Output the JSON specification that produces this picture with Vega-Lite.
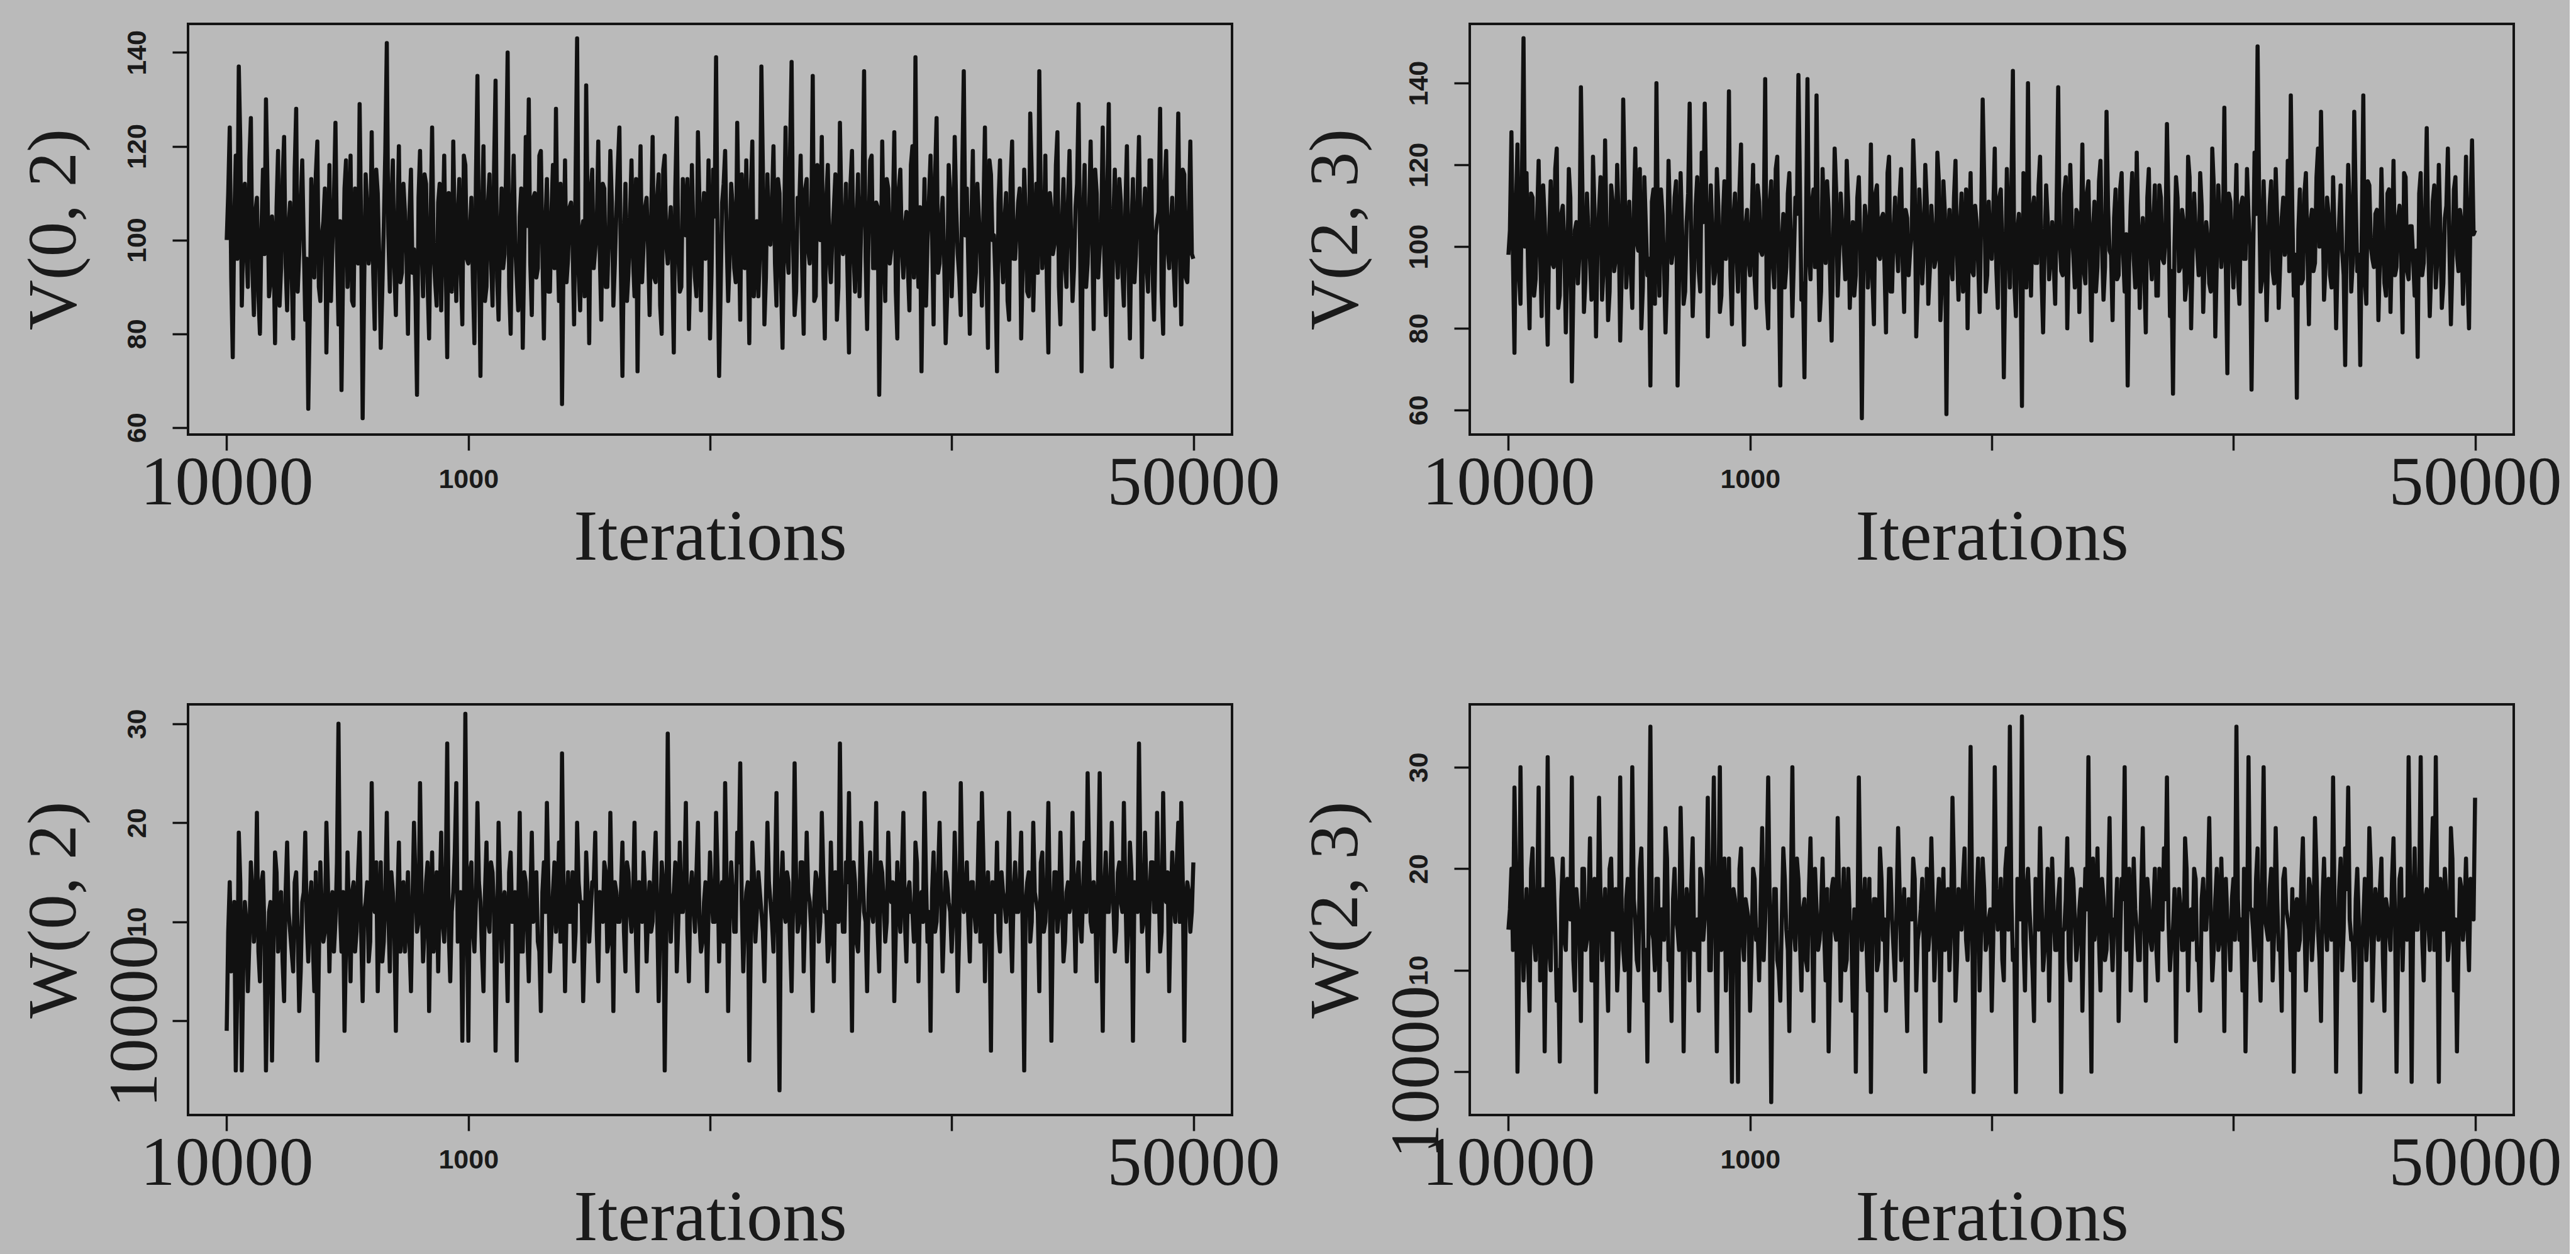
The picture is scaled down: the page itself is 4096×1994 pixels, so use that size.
{
"$schema": "https://vega.github.io/schema/vega-lite/v6.json",
"background": "#bababa",
"padding": {"left": 28, "top": 36, "right": 10, "bottom": 10},
"data": {"name": "t"},
"datasets": {"t": [
{"i":0,"a":100,"b":98,"c":-1,"d":14},{"i":12.5,"a":124,"b":128,"c":14,"d":20},{"i":25,"a":75,"b":74,"c":6,"d":28},{"i":37.5,"a":118,"b":125,"c":-5,"d":0},{"i":50,"a":137,"b":86,"c":19,"d":30},{"i":62.5,"a":86,"b":151,"c":-5,"d":9},{"i":75,"a":112,"b":118,"c":12,"d":18},{"i":87.5,"a":90,"b":80,"c":3,"d":6},{"i":100,"a":126,"b":112,"c":16,"d":22},{"i":112.5,"a":84,"b":92,"c":8,"d":11},{"i":125,"a":109,"b":121,"c":21,"d":28},{"i":137.5,"a":80,"b":83,"c":4,"d":15},{"i":150,"a":115,"b":107,"c":15,"d":2},{"i":162.5,"a":130,"b":76,"c":-5,"d":31},{"i":175,"a":88,"b":116,"c":11,"d":10},{"i":187.5,"a":105,"b":95,"c":-4,"d":19},{"i":200,"a":78,"b":124,"c":17,"d":7},{"i":212.5,"a":119,"b":88,"c":7,"d":1},{"i":225,"a":94,"b":110,"c":13,"d":21},{"i":237.5,"a":122,"b":79,"c":2,"d":12},
{"i":250,"a":85,"b":119,"c":18,"d":17},{"i":262.5,"a":108,"b":67,"c":9,"d":29},{"i":275,"a":79,"b":104,"c":5,"d":8},{"i":287.5,"a":128,"b":91,"c":15,"d":16},{"i":300,"a":97,"b":139,"c":1,"d":5},{"i":312.5,"a":117,"b":84,"c":12,"d":20},{"i":325,"a":83,"b":113,"c":19,"d":13},{"i":337.5,"a":64,"b":97,"c":6,"d":23},{"i":350,"a":113,"b":122,"c":14,"d":9},{"i":362.5,"a":92,"b":78,"c":3,"d":-2},{"i":375,"a":121,"b":109,"c":-4,"d":27},{"i":387.5,"a":87,"b":87,"c":16,"d":11},{"i":400,"a":104,"b":126,"c":8,"d":18},{"i":412.5,"a":76,"b":82,"c":20,"d":6},{"i":425,"a":116,"b":115,"c":5,"d":21},{"i":437.5,"a":99,"b":94,"c":13,"d":14},{"i":450,"a":125,"b":120,"c":10,"d":8},{"i":462.5,"a":82,"b":77,"c":30,"d":29},{"i":475,"a":68,"b":136,"c":7,"d":12},{"i":487.5,"a":111,"b":90,"c":-1,"d":17},
{"i":500,"a":90,"b":111,"c":17,"d":4},{"i":512.5,"a":118,"b":85,"c":4,"d":30},{"i":525,"a":86,"b":124,"c":14,"d":15},{"i":537.5,"a":107,"b":99,"c":9,"d":10},{"i":550,"a":129,"b":80,"c":19,"d":22},{"i":562.5,"a":62,"b":117,"c":2,"d":7},{"i":575,"a":114,"b":93,"c":12,"d":1},{"i":587.5,"a":95,"b":66,"c":6,"d":34},{"i":600,"a":123,"b":114,"c":24,"d":13},{"i":612.5,"a":81,"b":140,"c":11,"d":19},{"i":625,"a":110,"b":88,"c":3,"d":8},{"i":637.5,"a":77,"b":108,"c":16,"d":16},{"i":650,"a":103,"b":79,"c":8,"d":24},{"i":662.5,"a":142,"b":121,"c":21,"d":11},{"i":675,"a":89,"b":96,"c":5,"d":5},{"i":687.5,"a":117,"b":112,"c":13,"d":20},{"i":700,"a":84,"b":66,"c":-1,"d":14},{"i":712.5,"a":120,"b":118,"c":18,"d":26},{"i":725,"a":93,"b":86,"c":10,"d":2},{"i":737.5,"a":106,"b":106,"c":7,"d":18},
{"i":750,"a":80,"b":135,"c":15,"d":9},{"i":762.5,"a":115,"b":83,"c":3,"d":23},{"i":775,"a":98,"b":110,"c":20,"d":12},{"i":787.5,"a":67,"b":94,"c":9,"d":6},{"i":800,"a":119,"b":123,"c":24,"d":19},{"i":812.5,"a":88,"b":135,"c":6,"d":15},{"i":825,"a":112,"b":78,"c":14,"d":27},{"i":837.5,"a":79,"b":115,"c":1,"d":10},{"i":850,"a":124,"b":91,"c":17,"d":29},{"i":862.5,"a":91,"b":119,"c":11,"d":2},{"i":875,"a":108,"b":84,"c":5,"d":30},{"i":887.5,"a":85,"b":107,"c":19,"d":13},{"i":900,"a":118,"b":97,"c":8,"d":8},{"i":912.5,"a":75,"b":138,"c":28,"d":21},{"i":925,"a":101,"b":81,"c":4,"d":-1},{"i":937.5,"a":121,"b":113,"c":13,"d":17},{"i":950,"a":87,"b":89,"c":24,"d":-1},{"i":962.5,"a":113,"b":125,"c":10,"d":22},{"i":975,"a":82,"b":76,"c":-2,"d":11},{"i":987.5,"a":116,"b":109,"c":31,"d":16},
{"i":1000,"a":95,"b":93,"c":-2,"d":6},{"i":1012.5,"a":109,"b":120,"c":16,"d":20},{"i":1025,"a":78,"b":85,"c":7,"d":13},{"i":1037.5,"a":135,"b":111,"c":22,"d":9},{"i":1050,"a":71,"b":98,"c":12,"d":24},{"i":1062.5,"a":120,"b":141,"c":3,"d":15},{"i":1075,"a":90,"b":80,"c":18,"d":29},{"i":1087.5,"a":114,"b":116,"c":9,"d":-3},{"i":1100,"a":86,"b":90,"c":15,"d":18},{"i":1112.5,"a":134,"b":122,"c":-3,"d":11},{"i":1125,"a":83,"b":66,"c":20,"d":7},{"i":1137.5,"a":111,"b":108,"c":6,"d":22},{"i":1150,"a":97,"b":95,"c":13,"d":14},{"i":1162.5,"a":140,"b":118,"c":2,"d":4},{"i":1175,"a":80,"b":83,"c":17,"d":30},{"i":1187.5,"a":118,"b":112,"c":10,"d":12},{"i":1200,"a":92,"b":142,"c":-4,"d":19},{"i":1212.5,"a":105,"b":87,"c":21,"d":8},{"i":1225,"a":77,"b":68,"c":7,"d":17},{"i":1237.5,"a":122,"b":141,"c":14,"d":10},
{"i":1250,"a":130,"b":92,"c":4,"d":23},{"i":1262.5,"a":84,"b":114,"c":19,"d":5},{"i":1275,"a":110,"b":137,"c":11,"d":16},{"i":1287.5,"a":94,"b":82,"c":8,"d":13},{"i":1300,"a":119,"b":119,"c":1,"d":21},{"i":1312.5,"a":79,"b":96,"c":16,"d":9},{"i":1325,"a":113,"b":109,"c":22,"d":2},{"i":1337.5,"a":89,"b":77,"c":5,"d":18},{"i":1350,"a":116,"b":124,"c":13,"d":14},{"i":1362.5,"a":128,"b":88,"c":9,"d":25},{"i":1375,"a":87,"b":113,"c":18,"d":7},{"i":1387.5,"a":65,"b":100,"c":27,"d":20},{"i":1400,"a":117,"b":121,"c":3,"d":11},{"i":1412.5,"a":96,"b":85,"c":15,"d":15},{"i":1425,"a":108,"b":106,"c":10,"d":6},{"i":1437.5,"a":82,"b":93,"c":6,"d":0},{"i":1450,"a":143,"b":117,"c":20,"d":29},{"i":1462.5,"a":85,"b":58,"c":12,"d":12},{"i":1475,"a":104,"b":110,"c":2,"d":19},{"i":1487.5,"a":133,"b":90,"c":17,"d":8},
{"i":1500,"a":78,"b":125,"c":8,"d":-2},{"i":1512.5,"a":115,"b":81,"c":14,"d":17},{"i":1525,"a":98,"b":115,"c":19,"d":10},{"i":1537.5,"a":121,"b":97,"c":4,"d":22},{"i":1550,"a":83,"b":108,"c":11,"d":13},{"i":1562.5,"a":111,"b":79,"c":16,"d":6},{"i":1575,"a":90,"b":122,"c":7,"d":20},{"i":1587.5,"a":119,"b":89,"c":21,"d":15},{"i":1600,"a":86,"b":112,"c":1,"d":9},{"i":1612.5,"a":106,"b":94,"c":13,"d":24},{"i":1625,"a":124,"b":119,"c":10,"d":11},{"i":1637.5,"a":71,"b":84,"c":18,"d":18},{"i":1650,"a":112,"b":107,"c":5,"d":4},{"i":1662.5,"a":93,"b":99,"c":15,"d":16},{"i":1675,"a":117,"b":126,"c":9,"d":21},{"i":1687.5,"a":88,"b":78,"c":20,"d":8},{"i":1700,"a":72,"b":114,"c":3,"d":14},{"i":1712.5,"a":120,"b":91,"c":12,"d":19},{"i":1725,"a":99,"b":120,"c":17,"d":0},{"i":1737.5,"a":109,"b":86,"c":6,"d":12},
{"i":1750,"a":84,"b":110,"c":14,"d":23},{"i":1762.5,"a":122,"b":95,"c":10,"d":9},{"i":1775,"a":91,"b":123,"c":19,"d":16},{"i":1787.5,"a":114,"b":82,"c":2,"d":5},{"i":1800,"a":80,"b":116,"c":16,"d":20},{"i":1812.5,"a":118,"b":59,"c":-5,"d":13},{"i":1825,"a":95,"b":109,"c":29,"d":10},{"i":1837.5,"a":107,"b":92,"c":8,"d":27},{"i":1850,"a":76,"b":121,"c":13,"d":7},{"i":1862.5,"a":126,"b":87,"c":5,"d":18},{"i":1875,"a":89,"b":113,"c":18,"d":14},{"i":1887.5,"a":113,"b":98,"c":11,"d":22},{"i":1900,"a":101,"b":80,"c":22,"d":11},{"i":1912.5,"a":81,"b":118,"c":4,"d":32},{"i":1925,"a":116,"b":93,"c":15,"d":-2},{"i":1937.5,"a":92,"b":106,"c":9,"d":17},{"i":1950,"a":123,"b":84,"c":20,"d":8},{"i":1962.5,"a":85,"b":136,"c":7,"d":21},{"i":1975,"a":110,"b":89,"c":12,"d":12},{"i":1987.5,"a":97,"b":111,"c":3,"d":15},
{"i":2000,"a":79,"b":97,"c":17,"d":6},{"i":2012.5,"a":115,"b":124,"c":10,"d":30},{"i":2025,"a":139,"b":85,"c":21,"d":14},{"i":2037.5,"a":71,"b":114,"c":6,"d":19},{"i":2050,"a":108,"b":68,"c":14,"d":9},{"i":2062.5,"a":119,"b":119,"c":24,"d":22},{"i":2075,"a":87,"b":90,"c":1,"d":34},{"i":2087.5,"a":112,"b":143,"c":16,"d":11},{"i":2100,"a":94,"b":83,"c":9,"d":-2},{"i":2112.5,"a":125,"b":108,"c":19,"d":16},{"i":2125,"a":83,"b":61,"c":26,"d":35},{"i":2137.5,"a":105,"b":117,"c":5,"d":8},{"i":2150,"a":117,"b":140,"c":13,"d":20},{"i":2162.5,"a":78,"b":88,"c":-4,"d":13},{"i":2175,"a":121,"b":112,"c":18,"d":5},{"i":2187.5,"a":96,"b":96,"c":8,"d":18},{"i":2200,"a":88,"b":122,"c":15,"d":24},{"i":2212.5,"a":137,"b":79,"c":11,"d":10},{"i":2225,"a":82,"b":115,"c":4,"d":15},{"i":2237.5,"a":114,"b":92,"c":20,"d":7},
{"i":2250,"a":99,"b":106,"c":12,"d":21},{"i":2262.5,"a":120,"b":86,"c":7,"d":12},{"i":2275,"a":86,"b":139,"c":23,"d":17},{"i":2287.5,"a":110,"b":94,"c":-7,"d":-2},{"i":2300,"a":77,"b":113,"c":17,"d":14},{"i":2312.5,"a":124,"b":80,"c":10,"d":23},{"i":2325,"a":93,"b":120,"c":14,"d":9},{"i":2337.5,"a":138,"b":98,"c":3,"d":19},{"i":2350,"a":84,"b":109,"c":26,"d":11},{"i":2362.5,"a":109,"b":84,"c":9,"d":16},{"i":2375,"a":118,"b":125,"c":16,"d":6},{"i":2387.5,"a":80,"b":91,"c":5,"d":20},{"i":2400,"a":113,"b":116,"c":19,"d":31},{"i":2412.5,"a":95,"b":77,"c":12,"d":0},{"i":2425,"a":135,"b":111,"c":1,"d":13},{"i":2437.5,"a":88,"b":95,"c":15,"d":22},{"i":2450,"a":104,"b":121,"c":8,"d":8},{"i":2462.5,"a":122,"b":87,"c":21,"d":17},{"i":2475,"a":79,"b":133,"c":11,"d":12},{"i":2487.5,"a":116,"b":99,"c":6,"d":25},
{"i":2500,"a":91,"b":82,"c":18,"d":10},{"i":2512.5,"a":107,"b":114,"c":4,"d":15},{"i":2525,"a":83,"b":93,"c":13,"d":5},{"i":2537.5,"a":125,"b":118,"c":28,"d":19},{"i":2550,"a":97,"b":89,"c":9,"d":30},{"i":2562.5,"a":112,"b":66,"c":16,"d":13},{"i":2575,"a":76,"b":110,"c":23,"d":8},{"i":2587.5,"a":119,"b":97,"c":-1,"d":21},{"i":2600,"a":89,"b":123,"c":14,"d":14},{"i":2612.5,"a":114,"b":85,"c":7,"d":11},{"i":2625,"a":102,"b":107,"c":20,"d":24},{"i":2637.5,"a":136,"b":79,"c":11,"d":7},{"i":2650,"a":81,"b":119,"c":3,"d":17},{"i":2662.5,"a":117,"b":92,"c":17,"d":12},{"i":2675,"a":94,"b":115,"c":10,"d":20},{"i":2687.5,"a":108,"b":88,"c":22,"d":9},{"i":2700,"a":67,"b":112,"c":5,"d":16},{"i":2712.5,"a":121,"b":96,"c":15,"d":22},{"i":2725,"a":87,"b":130,"c":8,"d":29},{"i":2737.5,"a":111,"b":83,"c":19,"d":10},
{"i":2750,"a":98,"b":64,"c":12,"d":14},{"i":2762.5,"a":123,"b":117,"c":2,"d":3},{"i":2775,"a":79,"b":94,"c":16,"d":18},{"i":2787.5,"a":115,"b":109,"c":9,"d":12},{"i":2800,"a":92,"b":87,"c":21,"d":23},{"i":2812.5,"a":106,"b":122,"c":6,"d":8},{"i":2825,"a":85,"b":80,"c":14,"d":16},{"i":2837.5,"a":120,"b":113,"c":11,"d":20},{"i":2850,"a":139,"b":99,"c":18,"d":11},{"i":2862.5,"a":90,"b":118,"c":4,"d":6},{"i":2875,"a":72,"b":84,"c":13,"d":19},{"i":2887.5,"a":113,"b":106,"c":23,"d":14},{"i":2900,"a":100,"b":91,"c":8,"d":25},{"i":2912.5,"a":118,"b":124,"c":-1,"d":9},{"i":2925,"a":82,"b":78,"c":17,"d":17},{"i":2937.5,"a":126,"b":115,"c":10,"d":12},{"i":2950,"a":95,"b":95,"c":20,"d":21},{"i":2962.5,"a":109,"b":134,"c":5,"d":4},{"i":2975,"a":78,"b":69,"c":15,"d":15},{"i":2987.5,"a":116,"b":111,"c":12,"d":10},
{"i":3000,"a":88,"b":90,"c":7,"d":19},{"i":3012.5,"a":122,"b":120,"c":19,"d":34},{"i":3025,"a":97,"b":86,"c":3,"d":13},{"i":3037.5,"a":84,"b":112,"c":24,"d":8},{"i":3050,"a":136,"b":97,"c":11,"d":2},{"i":3062.5,"a":111,"b":108,"c":16,"d":31},{"i":3075,"a":80,"b":65,"c":6,"d":16},{"i":3087.5,"a":119,"b":123,"c":14,"d":11},{"i":3100,"a":93,"b":149,"c":9,"d":22},{"i":3112.5,"a":105,"b":89,"c":20,"d":7},{"i":3125,"a":86,"b":116,"c":23,"d":30},{"i":3137.5,"a":124,"b":82,"c":4,"d":14},{"i":3150,"a":77,"b":110,"c":15,"d":18},{"i":3162.5,"a":114,"b":94,"c":-3,"d":9},{"i":3175,"a":101,"b":119,"c":12,"d":24},{"i":3187.5,"a":72,"b":85,"c":18,"d":12},{"i":3200,"a":117,"b":107,"c":7,"d":6},{"i":3212.5,"a":91,"b":98,"c":13,"d":20},{"i":3225,"a":110,"b":121,"c":10,"d":15},{"i":3237.5,"a":83,"b":137,"c":21,"d":10},
{"i":3250,"a":121,"b":88,"c":5,"d":0},{"i":3262.5,"a":96,"b":63,"c":16,"d":17},{"i":3275,"a":108,"b":114,"c":11,"d":13},{"i":3287.5,"a":79,"b":92,"c":19,"d":23},{"i":3300,"a":115,"b":118,"c":-5,"d":8},{"i":3312.5,"a":89,"b":81,"c":14,"d":19},{"i":3325,"a":127,"b":109,"c":8,"d":11},{"i":3337.5,"a":85,"b":96,"c":20,"d":25},{"i":3350,"a":112,"b":124,"c":12,"d":14},{"i":3362.5,"a":136,"b":133,"c":3,"d":5},{"i":3375,"a":94,"b":87,"c":17,"d":21},{"i":3387.5,"a":118,"b":112,"c":10,"d":12},{"i":3400,"a":76,"b":93,"c":22,"d":16},{"i":3412.5,"a":106,"b":117,"c":-2,"d":29},{"i":3425,"a":99,"b":80,"c":15,"d":0},{"i":3437.5,"a":123,"b":106,"c":9,"d":18},{"i":3450,"a":82,"b":99,"c":19,"d":10},{"i":3462.5,"a":113,"b":71,"c":6,"d":22},{"i":3475,"a":90,"b":120,"c":13,"d":28},{"i":3487.5,"a":119,"b":89,"c":11,"d":13},
{"i":3500,"a":87,"b":133,"c":21,"d":9},{"i":3512.5,"a":107,"b":94,"c":5,"d":20},{"i":3525,"a":129,"b":71,"c":16,"d":-2},{"i":3537.5,"a":72,"b":137,"c":8,"d":15},{"i":3550,"a":116,"b":86,"c":18,"d":11},{"i":3562.5,"a":95,"b":115,"c":25,"d":24},{"i":3575,"a":121,"b":97,"c":10,"d":7},{"i":3587.5,"a":81,"b":108,"c":14,"d":18},{"i":3600,"a":110,"b":82,"c":4,"d":13},{"i":3612.5,"a":98,"b":119,"c":25,"d":21},{"i":3625,"a":124,"b":91,"c":-1,"d":6},{"i":3637.5,"a":84,"b":113,"c":17,"d":16},{"i":3650,"a":129,"b":84,"c":11,"d":12},{"i":3662.5,"a":73,"b":121,"c":20,"d":23},{"i":3675,"a":115,"b":95,"c":7,"d":0},{"i":3687.5,"a":92,"b":110,"c":15,"d":19},{"i":3700,"a":108,"b":79,"c":12,"d":10},{"i":3712.5,"a":86,"b":117,"c":22,"d":17},{"i":3725,"a":120,"b":92,"c":6,"d":31},{"i":3737.5,"a":79,"b":105,"c":18,"d":-1},
{"i":3750,"a":113,"b":88,"c":-2,"d":22},{"i":3762.5,"a":97,"b":73,"c":13,"d":14},{"i":3775,"a":122,"b":118,"c":28,"d":31},{"i":3787.5,"a":75,"b":96,"c":9,"d":9},{"i":3800,"a":111,"b":129,"c":19,"d":18},{"i":3812.5,"a":89,"b":83,"c":5,"d":12},{"i":3825,"a":117,"b":111,"c":16,"d":25},{"i":3837.5,"a":83,"b":90,"c":11,"d":31},{"i":3850,"a":104,"b":120,"c":21,"d":-1},{"i":3862.5,"a":128,"b":85,"c":7,"d":16},{"i":3875,"a":80,"b":107,"c":23,"d":20},{"i":3887.5,"a":119,"b":124,"c":12,"d":11},{"i":3900,"a":94,"b":81,"c":3,"d":24},{"i":3912.5,"a":109,"b":114,"c":17,"d":8},{"i":3925,"a":86,"b":98,"c":10,"d":2},{"i":3937.5,"a":127,"b":109,"c":20,"d":19},{"i":3950,"a":82,"b":86,"c":22,"d":13},{"i":3962.5,"a":114,"b":122,"c":-2,"d":21},{"i":3975,"a":91,"b":80,"c":14,"d":10},{"i":3987.5,"a":121,"b":126,"c":9,"d":17},{"i":4000,"a":96,"b":104,"c":16,"d":27},
{"i":6.25,"a":110,"b":104,"c":9,"d":16},{"i":18.75,"a":92,"b":97,"c":5,"d":12},{"i":31.25,"a":104,"b":110,"c":12,"d":19},{"i":43.75,"a":96,"b":93,"c":3,"d":10},{"i":56.25,"a":121,"b":118,"c":14,"d":17},{"i":68.75,"a":101,"b":100,"c":6,"d":14},{"i":81.25,"a":98,"b":95,"c":10,"d":11},{"i":93.75,"a":117,"b":113,"c":8,"d":20},{"i":106.25,"a":94,"b":88,"c":13,"d":13},{"i":118.75,"a":106,"b":107,"c":11,"d":16},{"i":131.25,"a":88,"b":99,"c":7,"d":9},{"i":143.75,"a":102,"b":115,"c":14,"d":18},{"i":156.25,"a":97,"b":91,"c":9,"d":15},{"i":168.75,"a":112,"b":103,"c":4,"d":12},{"i":181.25,"a":91,"b":96,"c":12,"d":21},{"i":193.75,"a":99,"b":119,"c":8,"d":14},{"i":206.25,"a":107,"b":85,"c":15,"d":10},{"i":218.75,"a":86,"b":108,"c":10,"d":17},{"i":231.25,"a":113,"b":101,"c":6,"d":13},{"i":243.75,"a":95,"b":94,"c":13,"d":19},
{"i":256.25,"a":103,"b":112,"c":11,"d":15},{"i":268.75,"a":93,"b":90,"c":7,"d":11},{"i":281.25,"a":115,"b":106,"c":14,"d":18},{"i":293.75,"a":89,"b":98,"c":9,"d":14},{"i":306.25,"a":108,"b":114,"c":5,"d":20},{"i":318.75,"a":100,"b":92,"c":13,"d":12},{"i":331.25,"a":96,"b":103,"c":10,"d":16},{"i":343.75,"a":84,"b":87,"c":12,"d":9},{"i":356.25,"a":105,"b":109,"c":8,"d":19},{"i":368.75,"a":114,"b":100,"c":15,"d":13},{"i":381.25,"a":90,"b":117,"c":6,"d":17},{"i":393.75,"a":101,"b":95,"c":11,"d":15},{"i":406.25,"a":111,"b":102,"c":9,"d":11},{"i":418.75,"a":94,"b":89,"c":14,"d":20},{"i":431.25,"a":87,"b":111,"c":12,"d":14},{"i":443.75,"a":109,"b":97,"c":7,"d":18},{"i":456.25,"a":98,"b":106,"c":16,"d":12},{"i":468.75,"a":104,"b":93,"c":11,"d":16},{"i":481.25,"a":92,"b":115,"c":13,"d":10},{"i":493.75,"a":117,"b":99,"c":8,"d":19},
{"i":506.25,"a":99,"b":94,"c":10,"d":13},{"i":518.75,"a":87,"b":108,"c":13,"d":17},{"i":531.25,"a":111,"b":101,"c":7,"d":11},{"i":543.75,"a":95,"b":119,"c":15,"d":20},{"i":556.25,"a":103,"b":90,"c":9,"d":15},{"i":568.75,"a":90,"b":105,"c":11,"d":12},{"i":581.25,"a":107,"b":97,"c":14,"d":18},{"i":593.75,"a":98,"b":111,"c":8,"d":14},{"i":606.25,"a":93,"b":86,"c":12,"d":10},{"i":618.75,"a":115,"b":103,"c":16,"d":19},{"i":631.25,"a":96,"b":114,"c":10,"d":16},{"i":643.75,"a":89,"b":96,"c":6,"d":13},{"i":656.25,"a":119,"b":92,"c":13,"d":21},{"i":668.75,"a":101,"b":107,"c":11,"d":11},{"i":681.25,"a":108,"b":99,"c":15,"d":17},{"i":693.75,"a":94,"b":116,"c":9,"d":15},{"i":706.25,"a":103,"b":93,"c":12,"d":12},{"i":718.75,"a":91,"b":104,"c":7,"d":19},{"i":731.25,"a":112,"b":89,"c":14,"d":14},{"i":743.75,"a":97,"b":113,"c":10,"d":16},
{"i":756.25,"a":106,"b":100,"c":8,"d":18},{"i":768.75,"a":93,"b":95,"c":12,"d":12},{"i":781.25,"a":88,"b":117,"c":14,"d":15},{"i":793.75,"a":109,"b":89,"c":10,"d":20},{"i":806.25,"a":99,"b":106,"c":13,"d":13},{"i":818.75,"a":114,"b":112,"c":9,"d":17},{"i":831.25,"a":91,"b":98,"c":16,"d":10},{"i":843.75,"a":104,"b":103,"c":11,"d":19},{"i":856.25,"a":97,"b":94,"c":7,"d":14},{"i":868.75,"a":86,"b":110,"c":15,"d":16},{"i":881.25,"a":112,"b":88,"c":12,"d":12},{"i":893.75,"a":102,"b":116,"c":10,"d":21},{"i":906.25,"a":95,"b":101,"c":14,"d":15},{"i":918.75,"a":110,"b":93,"c":9,"d":11},{"i":931.25,"a":89,"b":107,"c":11,"d":18},{"i":943.75,"a":100,"b":99,"c":17,"d":14},{"i":956.25,"a":105,"b":114,"c":8,"d":20},{"i":968.75,"a":93,"b":91,"c":13,"d":13},{"i":981.25,"a":118,"b":105,"c":11,"d":17},{"i":993.75,"a":96,"b":97,"c":12,"d":15},
{"i":1006.25,"a":102,"b":106,"c":15,"d":12},{"i":1018.75,"a":91,"b":92,"c":9,"d":19},{"i":1031.25,"a":113,"b":115,"c":12,"d":14},{"i":1043.75,"a":98,"b":99,"c":14,"d":17},{"i":1056.25,"a":104,"b":103,"c":7,"d":11},{"i":1068.75,"a":87,"b":87,"c":13,"d":20},{"i":1081.25,"a":108,"b":110,"c":10,"d":16},{"i":1093.75,"a":96,"b":96,"c":16,"d":13},{"i":1106.25,"a":115,"b":119,"c":11,"d":18},{"i":1118.75,"a":92,"b":94,"c":8,"d":10},{"i":1131.25,"a":101,"b":101,"c":14,"d":15},{"i":1143.75,"a":94,"b":90,"c":12,"d":19},{"i":1156.25,"a":116,"b":113,"c":9,"d":12},{"i":1168.75,"a":90,"b":100,"c":15,"d":17},{"i":1181.25,"a":106,"b":97,"c":10,"d":14},{"i":1193.75,"a":99,"b":108,"c":13,"d":21},{"i":1206.25,"a":85,"b":115,"c":11,"d":13},{"i":1218.75,"a":111,"b":91,"c":7,"d":16},{"i":1231.25,"a":97,"b":104,"c":15,"d":11},{"i":1243.75,"a":103,"b":98,"c":9,"d":18},
{"i":1256.25,"a":95,"b":111,"c":12,"d":15},{"i":1268.75,"a":109,"b":95,"c":10,"d":20},{"i":1281.25,"a":92,"b":102,"c":15,"d":12},{"i":1293.75,"a":118,"b":89,"c":7,"d":16},{"i":1306.25,"a":98,"b":107,"c":13,"d":14},{"i":1318.75,"a":103,"b":116,"c":11,"d":18},{"i":1331.25,"a":89,"b":93,"c":14,"d":11},{"i":1343.75,"a":106,"b":100,"c":9,"d":19},{"i":1356.25,"a":94,"b":114,"c":16,"d":13},{"i":1368.75,"a":100,"b":98,"c":12,"d":17},{"i":1381.25,"a":112,"b":105,"c":8,"d":15},{"i":1393.75,"a":96,"b":92,"c":13,"d":10},{"i":1406.25,"a":91,"b":110,"c":11,"d":20},{"i":1418.75,"a":107,"b":97,"c":10,"d":14},{"i":1431.25,"a":99,"b":88,"c":15,"d":16},{"i":1443.75,"a":114,"b":112,"c":9,"d":12},{"i":1456.25,"a":93,"b":101,"c":14,"d":18},{"i":1468.75,"a":102,"b":94,"c":12,"d":15},{"i":1481.25,"a":88,"b":106,"c":8,"d":13},{"i":1493.75,"a":105,"b":99,"c":13,"d":19},
{"i":1506.25,"a":110,"b":92,"c":11,"d":14},{"i":1518.75,"a":94,"b":113,"c":14,"d":17},{"i":1531.25,"a":103,"b":98,"c":9,"d":11},{"i":1543.75,"a":97,"b":107,"c":13,"d":19},{"i":1556.25,"a":112,"b":95,"c":10,"d":15},{"i":1568.75,"a":90,"b":118,"c":15,"d":13},{"i":1581.25,"a":101,"b":89,"c":8,"d":20},{"i":1593.75,"a":108,"b":104,"c":12,"d":12},{"i":1606.25,"a":95,"b":101,"c":14,"d":16},{"i":1618.75,"a":116,"b":112,"c":10,"d":18},{"i":1631.25,"a":93,"b":96,"c":13,"d":14},{"i":1643.75,"a":99,"b":109,"c":9,"d":10},{"i":1656.25,"a":87,"b":93,"c":16,"d":17},{"i":1668.75,"a":105,"b":103,"c":11,"d":15},{"i":1681.25,"a":96,"b":115,"c":12,"d":19},{"i":1693.75,"a":113,"b":90,"c":8,"d":13},{"i":1706.25,"a":100,"b":106,"c":14,"d":16},{"i":1718.75,"a":91,"b":99,"c":10,"d":12},{"i":1731.25,"a":107,"b":111,"c":13,"d":20},{"i":1743.75,"a":98,"b":94,"c":11,"d":14},
{"i":1756.25,"a":104,"b":103,"c":9,"d":17},{"i":1768.75,"a":92,"b":97,"c":15,"d":13},{"i":1781.25,"a":109,"b":116,"c":11,"d":19},{"i":1793.75,"a":86,"b":91,"c":10,"d":15},{"i":1806.25,"a":115,"b":108,"c":14,"d":12},{"i":1818.75,"a":99,"b":100,"c":8,"d":18},{"i":1831.25,"a":102,"b":95,"c":13,"d":14},{"i":1843.75,"a":94,"b":112,"c":12,"d":20},{"i":1856.25,"a":111,"b":98,"c":16,"d":11},{"i":1868.75,"a":97,"b":105,"c":10,"d":16},{"i":1881.25,"a":90,"b":89,"c":11,"d":19},{"i":1893.75,"a":106,"b":114,"c":14,"d":13},{"i":1906.25,"a":113,"b":102,"c":9,"d":15},{"i":1918.75,"a":95,"b":94,"c":13,"d":17},{"i":1931.25,"a":101,"b":110,"c":12,"d":12},{"i":1943.75,"a":88,"b":96,"c":15,"d":21},{"i":1956.25,"a":108,"b":107,"c":10,"d":14},{"i":1968.75,"a":103,"b":117,"c":8,"d":18},{"i":1981.25,"a":96,"b":93,"c":14,"d":13},{"i":1993.75,"a":117,"b":101,"c":11,"d":16},
{"i":2006.25,"a":93,"b":108,"c":13,"d":13},{"i":2018.75,"a":105,"b":95,"c":10,"d":18},{"i":2031.25,"a":98,"b":112,"c":15,"d":15},{"i":2043.75,"a":89,"b":99,"c":12,"d":11},{"i":2056.25,"a":112,"b":94,"c":8,"d":20},{"i":2068.75,"a":100,"b":106,"c":14,"d":14},{"i":2081.25,"a":96,"b":113,"c":11,"d":17},{"i":2093.75,"a":107,"b":91,"c":13,"d":12},{"i":2106.25,"a":91,"b":104,"c":9,"d":19},{"i":2118.75,"a":103,"b":97,"c":16,"d":15},{"i":2131.25,"a":114,"b":118,"c":12,"d":13},{"i":2143.75,"a":94,"b":90,"c":10,"d":18},{"i":2156.25,"a":99,"b":103,"c":14,"d":16},{"i":2168.75,"a":110,"b":109,"c":8,"d":10},{"i":2181.25,"a":88,"b":96,"c":15,"d":19},{"i":2193.75,"a":104,"b":115,"c":11,"d":14},{"i":2206.25,"a":97,"b":92,"c":13,"d":17},{"i":2218.75,"a":115,"b":100,"c":9,"d":12},{"i":2231.25,"a":92,"b":107,"c":12,"d":20},{"i":2243.75,"a":101,"b":98,"c":14,"d":15},
{"i":2256.25,"a":108,"b":96,"c":10,"d":16},{"i":2268.75,"a":95,"b":111,"c":14,"d":12},{"i":2281.25,"a":113,"b":101,"c":9,"d":19},{"i":2293.75,"a":91,"b":93,"c":13,"d":14},{"i":2306.25,"a":102,"b":117,"c":11,"d":17},{"i":2318.75,"a":97,"b":99,"c":15,"d":11},{"i":2331.25,"a":119,"b":105,"c":8,"d":20},{"i":2343.75,"a":99,"b":90,"c":12,"d":15},{"i":2356.25,"a":89,"b":108,"c":14,"d":13},{"i":2368.75,"a":106,"b":102,"c":10,"d":18},{"i":2381.25,"a":94,"b":94,"c":16,"d":14},{"i":2393.75,"a":111,"b":113,"c":11,"d":16},{"i":2406.25,"a":98,"b":97,"c":13,"d":12},{"i":2418.75,"a":103,"b":104,"c":9,"d":21},{"i":2431.25,"a":87,"b":89,"c":12,"d":15},{"i":2443.75,"a":116,"b":116,"c":14,"d":13},{"i":2456.25,"a":100,"b":100,"c":10,"d":19},{"i":2468.75,"a":93,"b":95,"c":15,"d":11},{"i":2481.25,"a":109,"b":110,"c":11,"d":17},{"i":2493.75,"a":96,"b":98,"c":8,"d":14},
{"i":2506.25,"a":101,"b":107,"c":12,"d":15},{"i":2518.75,"a":114,"b":92,"c":15,"d":19},{"i":2531.25,"a":90,"b":114,"c":10,"d":13},{"i":2543.75,"a":106,"b":98,"c":13,"d":17},{"i":2556.25,"a":99,"b":103,"c":9,"d":12},{"i":2568.75,"a":93,"b":96,"c":14,"d":20},{"i":2581.25,"a":112,"b":118,"c":11,"d":14},{"i":2593.75,"a":97,"b":90,"c":16,"d":16},{"i":2606.25,"a":104,"b":105,"c":8,"d":11},{"i":2618.75,"a":88,"b":101,"c":12,"d":18},{"i":2631.25,"a":110,"b":93,"c":15,"d":15},{"i":2643.75,"a":96,"b":112,"c":10,"d":19},{"i":2656.25,"a":102,"b":99,"c":13,"d":13},{"i":2668.75,"a":118,"b":106,"c":11,"d":16},{"i":2681.25,"a":94,"b":88,"c":14,"d":12},{"i":2693.75,"a":107,"b":115,"c":9,"d":20},{"i":2706.25,"a":91,"b":97,"c":16,"d":14},{"i":2718.75,"a":100,"b":102,"c":12,"d":17},{"i":2731.25,"a":113,"b":109,"c":10,"d":15},{"i":2743.75,"a":95,"b":94,"c":13,"d":13},
{"i":2756.25,"a":105,"b":100,"c":14,"d":18},{"i":2768.75,"a":89,"b":112,"c":9,"d":14},{"i":2781.25,"a":111,"b":95,"c":12,"d":16},{"i":2793.75,"a":98,"b":106,"c":15,"d":12},{"i":2806.25,"a":103,"b":91,"c":10,"d":20},{"i":2818.75,"a":94,"b":117,"c":13,"d":15},{"i":2831.25,"a":116,"b":98,"c":11,"d":13},{"i":2843.75,"a":92,"b":104,"c":8,"d":19},{"i":2856.25,"a":100,"b":93,"c":16,"d":11},{"i":2868.75,"a":107,"b":110,"c":12,"d":17},{"i":2881.25,"a":97,"b":97,"c":10,"d":14},{"i":2893.75,"a":86,"b":102,"c":14,"d":18},{"i":2906.25,"a":109,"b":89,"c":11,"d":16},{"i":2918.75,"a":101,"b":115,"c":13,"d":12},{"i":2931.25,"a":114,"b":96,"c":9,"d":20},{"i":2943.75,"a":93,"b":107,"c":15,"d":13},{"i":2956.25,"a":104,"b":101,"c":12,"d":15},{"i":2968.75,"a":96,"b":94,"c":10,"d":19},{"i":2981.25,"a":88,"b":113,"c":14,"d":14},{"i":2993.75,"a":110,"b":99,"c":11,"d":17},
{"i":3006.25,"a":99,"b":105,"c":11,"d":13},{"i":3018.75,"a":107,"b":93,"c":13,"d":17},{"i":3031.25,"a":92,"b":110,"c":9,"d":15},{"i":3043.75,"a":115,"b":97,"c":15,"d":20},{"i":3056.25,"a":101,"b":119,"c":12,"d":12},{"i":3068.75,"a":95,"b":100,"c":10,"d":16},{"i":3081.25,"a":103,"b":95,"c":14,"d":14},{"i":3093.75,"a":89,"b":108,"c":11,"d":19},{"i":3106.25,"a":112,"b":114,"c":13,"d":11},{"i":3118.75,"a":97,"b":92,"c":8,"d":18},{"i":3131.25,"a":106,"b":103,"c":16,"d":15},{"i":3143.75,"a":93,"b":99,"c":12,"d":13},{"i":3156.25,"a":117,"b":116,"c":10,"d":20},{"i":3168.75,"a":100,"b":91,"c":14,"d":14},{"i":3181.25,"a":91,"b":107,"c":11,"d":17},{"i":3193.75,"a":108,"b":96,"c":9,"d":12},{"i":3206.25,"a":98,"b":112,"c":15,"d":19},{"i":3218.75,"a":104,"b":101,"c":12,"d":16},{"i":3231.25,"a":87,"b":94,"c":13,"d":14},{"i":3243.75,"a":113,"b":109,"c":10,"d":18},
{"i":3256.25,"a":96,"b":98,"c":13,"d":16},{"i":3268.75,"a":102,"b":104,"c":11,"d":12},{"i":3281.25,"a":111,"b":91,"c":14,"d":19},{"i":3293.75,"a":94,"b":113,"c":9,"d":15},{"i":3306.25,"a":105,"b":99,"c":12,"d":13},{"i":3318.75,"a":88,"b":106,"c":15,"d":18},{"i":3331.25,"a":114,"b":94,"c":10,"d":14},{"i":3343.75,"a":99,"b":117,"c":13,"d":20},{"i":3356.25,"a":93,"b":100,"c":11,"d":11},{"i":3368.75,"a":107,"b":112,"c":16,"d":17},{"i":3381.25,"a":100,"b":95,"c":9,"d":15},{"i":3393.75,"a":91,"b":108,"c":14,"d":19},{"i":3406.25,"a":110,"b":90,"c":12,"d":13},{"i":3418.75,"a":97,"b":103,"c":10,"d":16},{"i":3431.25,"a":116,"b":97,"c":15,"d":12},{"i":3443.75,"a":90,"b":115,"c":11,"d":21},{"i":3456.25,"a":103,"b":93,"c":13,"d":14},{"i":3468.75,"a":95,"b":102,"c":8,"d":18},{"i":3481.25,"a":108,"b":110,"c":14,"d":15},{"i":3493.75,"a":101,"b":96,"c":12,"d":13},
{"i":3506.25,"a":94,"b":111,"c":12,"d":17},{"i":3518.75,"a":112,"b":98,"c":14,"d":15},{"i":3531.25,"a":98,"b":104,"c":10,"d":12},{"i":3543.75,"a":105,"b":92,"c":13,"d":19},{"i":3556.25,"a":90,"b":116,"c":11,"d":14},{"i":3568.75,"a":106,"b":100,"c":16,"d":20},{"i":3581.25,"a":101,"b":95,"c":9,"d":13},{"i":3593.75,"a":115,"b":109,"c":12,"d":16},{"i":3606.25,"a":92,"b":97,"c":15,"d":18},{"i":3618.75,"a":103,"b":103,"c":10,"d":11},{"i":3631.25,"a":97,"b":88,"c":13,"d":17},{"i":3643.75,"a":110,"b":114,"c":11,"d":14},{"i":3656.25,"a":88,"b":101,"c":14,"d":19},{"i":3668.75,"a":104,"b":93,"c":12,"d":15},{"i":3681.25,"a":99,"b":107,"c":9,"d":12},{"i":3693.75,"a":113,"b":99,"c":16,"d":20},{"i":3706.25,"a":93,"b":118,"c":11,"d":16},{"i":3718.75,"a":107,"b":94,"c":13,"d":13},{"i":3731.25,"a":96,"b":105,"c":10,"d":18},{"i":3743.75,"a":102,"b":97,"c":15,"d":15},
{"i":3756.25,"a":91,"b":99,"c":14,"d":14},{"i":3768.75,"a":109,"b":113,"c":11,"d":18},{"i":3781.25,"a":100,"b":93,"c":15,"d":13},{"i":3793.75,"a":104,"b":108,"c":10,"d":17},{"i":3806.25,"a":95,"b":101,"c":13,"d":15},{"i":3818.75,"a":117,"b":95,"c":12,"d":20},{"i":3831.25,"a":93,"b":115,"c":16,"d":12},{"i":3843.75,"a":101,"b":97,"c":11,"d":16},{"i":3856.25,"a":106,"b":104,"c":14,"d":19},{"i":3868.75,"a":89,"b":91,"c":9,"d":14},{"i":3881.25,"a":112,"b":110,"c":13,"d":17},{"i":3893.75,"a":98,"b":100,"c":15,"d":13},{"i":3906.25,"a":103,"b":96,"c":11,"d":21},{"i":3918.75,"a":94,"b":117,"c":12,"d":15},{"i":3931.25,"a":108,"b":94,"c":16,"d":12},{"i":3943.75,"a":99,"b":106,"c":10,"d":18},{"i":3956.25,"a":115,"b":102,"c":14,"d":16},{"i":3968.75,"a":92,"b":92,"c":12,"d":14},{"i":3981.25,"a":105,"b":111,"c":13,"d":19},{"i":3993.75,"a":97,"b":103,"c":11,"d":15}
]},
"columns": 2,
"spacing": {"row": 429, "column": 378},
"bounds": "flush",
"concat": [
{
 "width": 1660, "height": 653,
 "mark": {"type": "line", "color": "#111111", "strokeWidth": 6.5, "strokeJoin": "round"},
 "encoding": {
  "x": {"field": "i", "type": "quantitative", "sort": "ascending", "scale": {"domain": [-160, 4160], "nice": false, "zero": false},
   "axis": {"values": [0, 1000, 2000, 3000, 4000], "title": "Iterations",
    "labelExpr": "datum.value == 0 ? '10000' : datum.value == 1000 ? '1000' : datum.value == 4000 ? '50000' : ''",
    "labelFont": {"condition": {"test": "datum.value == 1000", "value": "Liberation Sans"}, "value": "Liberation Serif"},
    "labelFontSize": {"condition": {"test": "datum.value == 1000", "value": 43}, "value": 110},
    "labelFontWeight": {"condition": {"test": "datum.value == 1000", "value": "bold"}, "value": "normal"},
    "labelPadding": {"condition": {"test": "datum.value == 1000", "value": 59}, "value": 85}}},
  "y": {"field": "a", "type": "quantitative", "scale": {"domain": [58.5, 146.1], "nice": false, "zero": false},
   "axis": {"values": [60, 80, 100, 120, 140], "title": "V(0, 2)"}}
 }
},
{
 "width": 1660, "height": 653,
 "mark": {"type": "line", "color": "#111111", "strokeWidth": 6.5, "strokeJoin": "round"},
 "encoding": {
  "x": {"field": "i", "type": "quantitative", "sort": "ascending", "scale": {"domain": [-160, 4160], "nice": false, "zero": false},
   "axis": {"values": [0, 1000, 2000, 3000, 4000], "title": "Iterations",
    "labelExpr": "datum.value == 0 ? '10000' : datum.value == 1000 ? '1000' : datum.value == 4000 ? '50000' : ''",
    "labelFont": {"condition": {"test": "datum.value == 1000", "value": "Liberation Sans"}, "value": "Liberation Serif"},
    "labelFontSize": {"condition": {"test": "datum.value == 1000", "value": 43}, "value": 110},
    "labelFontWeight": {"condition": {"test": "datum.value == 1000", "value": "bold"}, "value": "normal"},
    "labelPadding": {"condition": {"test": "datum.value == 1000", "value": 59}, "value": 85}}},
  "y": {"field": "b", "type": "quantitative", "scale": {"domain": [54, 154.5], "nice": false, "zero": false},
   "axis": {"values": [60, 80, 100, 120, 140], "title": "V(2, 3)"}}
 }
},
{
 "width": 1660, "height": 653,
 "mark": {"type": "line", "color": "#111111", "strokeWidth": 6.5, "strokeJoin": "round"},
 "encoding": {
  "x": {"field": "i", "type": "quantitative", "sort": "ascending", "scale": {"domain": [-160, 4160], "nice": false, "zero": false},
   "axis": {"values": [0, 1000, 2000, 3000, 4000], "title": "Iterations",
    "labelExpr": "datum.value == 0 ? '10000' : datum.value == 1000 ? '1000' : datum.value == 4000 ? '50000' : ''",
    "labelFont": {"condition": {"test": "datum.value == 1000", "value": "Liberation Sans"}, "value": "Liberation Serif"},
    "labelFontSize": {"condition": {"test": "datum.value == 1000", "value": 43}, "value": 110},
    "labelFontWeight": {"condition": {"test": "datum.value == 1000", "value": "bold"}, "value": "normal"},
    "labelPadding": {"condition": {"test": "datum.value == 1000", "value": 59}, "value": 85}}},
  "y": {"field": "c", "type": "quantitative", "scale": {"domain": [-9.5, 31.96], "nice": false, "zero": false},
   "axis": {"values": [0, 10, 20, 30], "title": "W(0, 2)",
    "labelExpr": "datum.value == 0 ? '10000' : datum.label",
    "labelFont": {"condition": {"test": "datum.value == 0", "value": "Liberation Serif"}, "value": "Liberation Sans"},
    "labelFontSize": {"condition": {"test": "datum.value == 0", "value": 110}, "value": 43},
    "labelFontWeight": {"condition": {"test": "datum.value == 0", "value": "normal"}, "value": "bold"},
    "labelPadding": {"condition": {"test": "datum.value == 0", "value": 26}, "value": 43}}}
 }
},
{
 "width": 1660, "height": 653,
 "mark": {"type": "line", "color": "#111111", "strokeWidth": 6.5, "strokeJoin": "round"},
 "encoding": {
  "x": {"field": "i", "type": "quantitative", "sort": "ascending", "scale": {"domain": [-160, 4160], "nice": false, "zero": false},
   "axis": {"values": [0, 1000, 2000, 3000, 4000], "title": "Iterations",
    "labelExpr": "datum.value == 0 ? '10000' : datum.value == 1000 ? '1000' : datum.value == 4000 ? '50000' : ''",
    "labelFont": {"condition": {"test": "datum.value == 1000", "value": "Liberation Sans"}, "value": "Liberation Serif"},
    "labelFontSize": {"condition": {"test": "datum.value == 1000", "value": 43}, "value": 110},
    "labelFontWeight": {"condition": {"test": "datum.value == 1000", "value": "bold"}, "value": "normal"},
    "labelPadding": {"condition": {"test": "datum.value == 1000", "value": 59}, "value": 85}}},
  "y": {"field": "d", "type": "quantitative", "scale": {"domain": [-4.27, 36.2], "nice": false, "zero": false},
   "axis": {"values": [0, 10, 20, 30], "title": "W(2, 3)",
    "labelExpr": "datum.value == 0 ? '10000' : datum.label",
    "labelFont": {"condition": {"test": "datum.value == 0", "value": "Liberation Serif"}, "value": "Liberation Sans"},
    "labelFontSize": {"condition": {"test": "datum.value == 0", "value": 110}, "value": 43},
    "labelFontWeight": {"condition": {"test": "datum.value == 0", "value": "normal"}, "value": "bold"},
    "labelPadding": {"condition": {"test": "datum.value == 0", "value": 26}, "value": 43}}}
 }
}
],
"config": {
 "view": {"stroke": "#141414", "strokeWidth": 4, "fill": null},
 "axis": {"domain": false, "grid": false, "ticks": true, "tickColor": "#141414", "tickWidth": 3.5, "tickSize": 25,
  "labelColor": "#1a1a1a", "titleColor": "#1a1a1a", "titleFont": "Liberation Serif", "titleFontWeight": "normal",
  "labelOverlap": false, "labelFlush": false, "labelBound": false, "labelLimit": 0, "titleLimit": 0, "labelBaseline": "alphabetic"},
 "axisX": {"titleFontSize": 115, "titleY": 198, "titleBaseline": "alphabetic"},
 "axisY": {"labelAngle": -90, "labelAlign": "center", "labelBaseline": "alphabetic", "labelFont": "Liberation Sans",
  "labelFontWeight": "bold", "labelFontSize": 43, "labelPadding": 43, "titleFontSize": 111, "titleX": -180,
  "titleBaseline": "alphabetic", "titleAngle": -90}
}
}
